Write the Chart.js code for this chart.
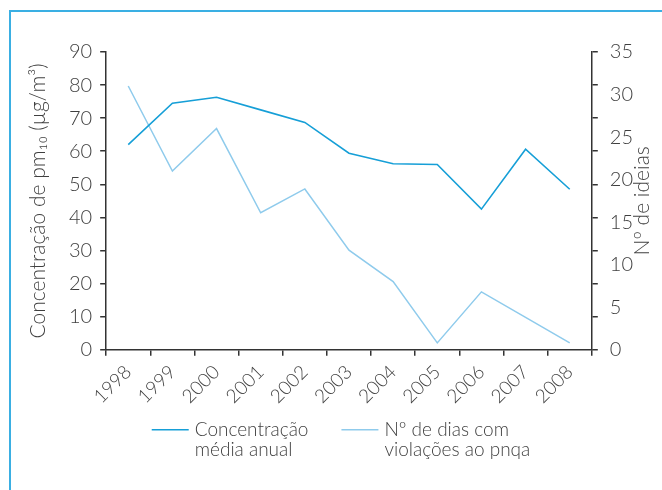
<!DOCTYPE html>
<html>
<head>
<meta charset="utf-8">
<script src="https://cdn.jsdelivr.net/npm/chart.js"></script>
<style>
  html, body { margin: 0; padding: 0; background: #fff; }
  #wrap { position: relative; width: 662px; height: 490px; overflow: hidden; }
  #frame { position: absolute; left: 9px; top: 10px; width: 700px; height: 600px;
           border-top: 2px solid #3aafe3; border-left: 2px solid #3aafe3; }
  #chart { position: absolute; left: 0; top: 0; }
</style>
</head>
<body>
<div id="wrap">
  <div id="frame"></div>
  <canvas id="chart" width="662" height="490"></canvas>
</div>
<script>
const years = ["1998", "1999", "2000", "2001", "2002", "2003", "2004", "2005", "2006", "2007", "2008"];
const concentracao = [62, 74.5, 76.3, 72.5, 68.7, 59.4, 56.2, 56, 42.5, 60.6, 48.5];
const diasViolacao = [31, 21, 26, 16.1, 18.9, 11.7, 8, 0.8, 6.8, 3.8, 0.8];
const leftAxis = { min: 0, max: 90, step: 10 };
const rightAxis = { min: 0, max: 35, step: 5 };
const leftTitle = "Concentração de pm₁₀ (µg/m³)";
const rightTitle = "Nº de ideias";
const legendConc = ["Concentração", "média anual"];
const legendDias = ["Nº de dias com", "violações ao pnqa"];

const textColor = "#3f3f3f";
const axisColor = "#333333";
const fontFamily = "Lato, 'Open Sans', sans-serif";

// right title (reads bottom to top) and two-line legend
const extraText = {
    id: "extraText",
    afterDraw(c) {
        const ctx = c.ctx;
        const a = c.chartArea;
        ctx.save();
        ctx.fillStyle = textColor;
        ctx.font = "300 21px " + fontFamily;
        ctx.textAlign = "center";
        ctx.textBaseline = "middle";
        ctx.translate(a.right + 50, (a.top + a.bottom) / 2);
        ctx.rotate(-Math.PI / 2);
        ctx.fillText(rightTitle, 0, 0);
        ctx.restore();

        ctx.save();
        ctx.font = "300 19px " + fontFamily;
        ctx.textBaseline = "middle";
        ctx.textAlign = "left";
        const lineW = 37, gapText = 6, gapItem = 33, lineH = 20;
        const items = c.data.datasets.map(ds => {
            const w = Math.max(...ds.legendLines.map(t => ctx.measureText(t).width));
            return { ds, w: lineW + gapText + w };
        });
        const total = items.reduce((s, it) => s + it.w, 0) + gapItem * (items.length - 1);
        let x = (a.left + a.right) / 2 - total / 2 - 8;
        const y = a.bottom + 80;
        items.forEach(it => {
            ctx.strokeStyle = it.ds.borderColor;
            ctx.lineWidth = 1.5;
            ctx.beginPath();
            ctx.moveTo(x, y);
            ctx.lineTo(x + lineW, y);
            ctx.stroke();
            ctx.fillStyle = textColor;
            it.ds.legendLines.forEach((t, i) => ctx.fillText(t, x + lineW + gapText, y + i * lineH));
            x += it.w + gapItem;
        });
        ctx.restore();
    }
};

new Chart(document.getElementById("chart"), {
    type: "line",
    data: {
        labels: years,
        datasets: [
            {
                label: legendConc.join(" "),
                legendLines: legendConc,
                data: concentracao,
                yAxisID: "y",
                borderColor: "#169fd7",
                borderWidth: 1.6,
                pointRadius: 0,
                tension: 0
            },
            {
                label: legendDias.join(" "),
                legendLines: legendDias,
                data: diasViolacao,
                yAxisID: "y1",
                borderColor: "#8fcbec",
                borderWidth: 1.5,
                pointRadius: 0,
                tension: 0
            }
        ]
    },
    options: {
        responsive: false,
        animation: false,
        layout: { padding: { left: 0, right: 25, top: 52, bottom: 77 } },
        plugins: {
            legend: { display: false },
            tooltip: { enabled: false }
        },
        scales: {
            x: {
                offset: true,
                grid: { drawOnChartArea: false, offset: true, tickLength: 6, color: axisColor, lineWidth: 1.5 },
                border: { color: axisColor, width: 1.5 },
                ticks: {
                    minRotation: 45, maxRotation: 45, padding: 5,
                    color: textColor,
                    font: { family: fontFamily, size: 19, weight: 300 }
                }
            },
            y: {
                position: "left",
                min: leftAxis.min, max: leftAxis.max,
                grid: { drawOnChartArea: false, tickLength: 6, color: axisColor, lineWidth: 1.5 },
                border: { color: axisColor, width: 1.5 },
                ticks: {
                    stepSize: leftAxis.step, padding: 8,
                    color: textColor,
                    font: { family: fontFamily, size: 20, weight: 300 }
                },
                title: {
                    display: true, text: leftTitle, color: textColor,
                    font: { family: fontFamily, size: 21, weight: 300 },
                    padding: { top: 26, bottom: 14 }
                }
            },
            // tick marks on the right line follow the left scale
            y2: {
                position: "right",
                weight: 0,
                min: leftAxis.min, max: leftAxis.max,
                grid: { drawOnChartArea: false, tickLength: 6, color: axisColor, lineWidth: 1.5 },
                border: { color: axisColor, width: 1.5 },
                ticks: { stepSize: leftAxis.step, display: false }
            },
            y1: {
                position: "right",
                weight: 1,
                min: rightAxis.min, max: rightAxis.max,
                grid: { display: false },
                border: { display: false },
                ticks: {
                    stepSize: rightAxis.step, padding: 4,
                    color: textColor,
                    font: { family: fontFamily, size: 20, weight: 300 }
                }
            }
        }
    },
    plugins: [extraText]
});
</script>
</body>
</html>
